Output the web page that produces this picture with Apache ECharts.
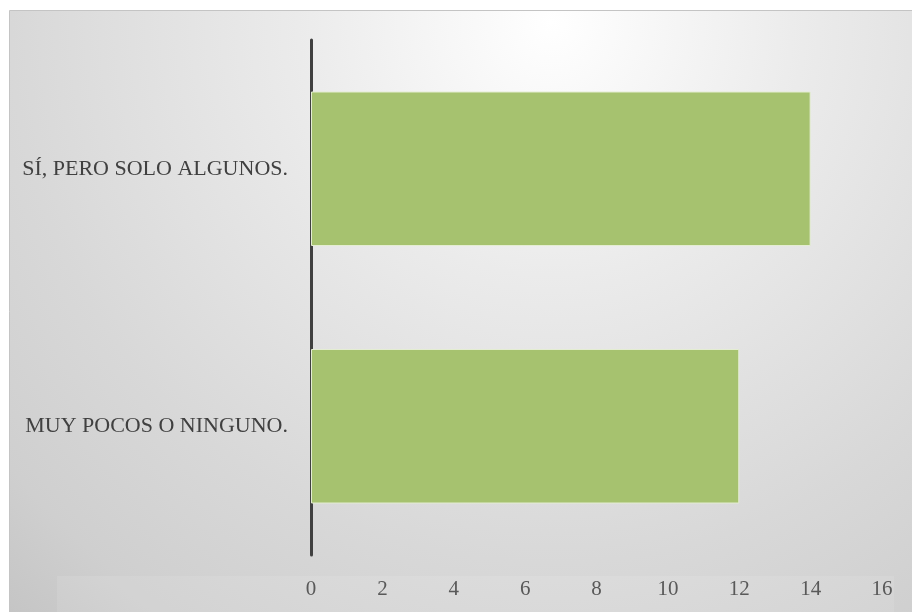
<!DOCTYPE html>
<html>
<head>
<meta charset="utf-8">
<script src="https://cdn.jsdelivr.net/npm/echarts@6/dist/echarts.min.js"></script>
<style>
  html, body { margin: 0; padding: 0; background: #ffffff; }
  #chart { width: 912px; height: 612px; }
</style>
</head>
<body>
<div id="chart"></div>
<script>
// Survey answers and their counts
const categories = ['MUY POCOS O NINGUNO.', 'SÍ, PERO SOLO ALGUNOS.'];
const counts = [12, 14];
const xTicks = [0, 2, 4, 6, 8, 10, 12, 14, 16];

const FONT = '"Liberation Serif", "DejaVu Serif", serif';

const chart = echarts.init(document.getElementById('chart'), null, { renderer: 'canvas' });

chart.setOption({
  animation: false,
  backgroundColor: '#ffffff',
  graphic: [
    {
      // chart area with soft radial shading
      type: 'rect',
      z: -10,
      shape: { x: 9.5, y: 10.5, width: 903, height: 602 },
      style: {
        fill: {
          type: 'radial', x: 0.6, y: 0.02, r: 1.4,
          colorStops: [
            { offset: 0, color: '#ffffff' },
            { offset: 0.3, color: '#ebebeb' },
            { offset: 0.64, color: '#d8d8d8' },
            { offset: 0.83, color: '#cfcfcf' },
            { offset: 0.96, color: '#c4c4c4' },
            { offset: 1, color: '#c2c2c2' }
          ]
        },
        stroke: '#c4c4c4',
        lineWidth: 1
      }
    },
    {
      // lighter band behind the value labels
      type: 'rect',
      z: -9,
      shape: { x: 57, y: 576, width: 837, height: 36 },
      style: { fill: 'rgba(255,255,255,0.1)' }
    }
  ],
  grid: { left: 311, right: 30, top: 40, bottom: 57, containLabel: false },
  xAxis: {
    type: 'value',
    min: xTicks[0],
    max: xTicks[xTicks.length - 1],
    interval: 2,
    axisLine: { show: false },
    axisTick: { show: false },
    splitLine: { show: false },
    axisLabel: {
      margin: 24,
      color: '#595959',
      fontFamily: FONT,
      fontSize: 21
    }
  },
  yAxis: {
    type: 'category',
    data: categories,
    axisLine: { show: true, lineStyle: { color: '#404040', width: 3 } },
    axisTick: { show: false },
    axisLabel: {
      margin: 23,
      color: '#404040',
      fontFamily: FONT,
      fontSize: 22
    }
  },
  series: [
    {
      type: 'bar',
      data: counts,
      barCategoryGap: '40%',
      itemStyle: {
        color: '#a6c26f',
        borderColor: '#e4edd2',
        borderWidth: 1
      }
    }
  ]
});
</script>
</body>
</html>
